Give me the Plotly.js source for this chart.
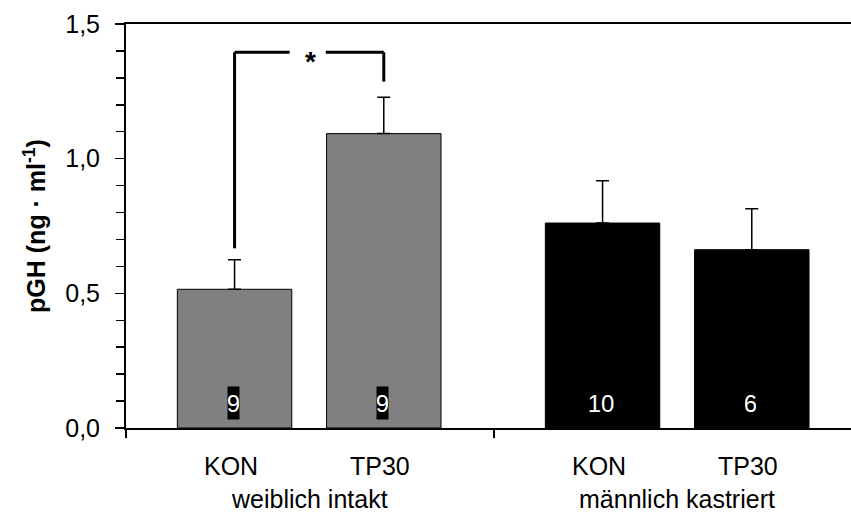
<!DOCTYPE html>
<html>
<head>
<meta charset="utf-8">
<script src="https://cdn.plot.ly/plotly-3.0.1.min.js"></script>
<style>
  html, body { margin: 0; padding: 0; background: #ffffff; overflow: hidden; }
  #chart { width: 851px; height: 514px; }
</style>
</head>
<body>
<div id="chart"></div>
<script>
// ---- data ----
const groups = ['weiblich intakt', 'männlich kastriert'];
const categories = ['KON', 'TP30'];
const meansFemale = [0.515, 1.093];
const meansMale = [0.761, 0.662];
const semFemale = [0.110, 0.135];
const semMale = [0.157, 0.152];
const nFemale = [9, 9];
const nMale = [10, 6];
const yTickVals = [0, 0.5, 1.0, 1.5];

// ---- layout helpers (group g spans [g, g+1] on the x axis) ----
const slot = [0.295, 0.7005];
const barWidth = 0.311;
const xMax = 725 / 368;
const FONT = 'Liberation Sans, Arial, Helvetica, sans-serif';
const groupColors = ['#808080', '#000000'];

function xs(g) { return slot.map(s => g + s); }

const seriesMeans = [meansFemale, meansMale];
const seriesSem = [semFemale, semMale];
const seriesN = [nFemale, nMale];

const traces = groups.map((name, g) => ({
  type: 'bar',
  name: name,
  x: xs(g),
  y: seriesMeans[g],
  width: barWidth,
  marker: { color: groupColors[g], line: { color: '#000000', width: 1 } },
  error_y: {
    type: 'data', symmetric: false,
    array: seriesSem[g], arrayminus: seriesMeans[g].map(() => 0),
    color: '#000000', thickness: 1.5, width: 6.5
  },
  hoverinfo: 'x+y',
  showlegend: false
}));

const annotations = [];
groups.forEach((name, g) => {
  const px = xs(g);
  categories.forEach((c, i) => {
    annotations.push({
      x: px[i] - 0.01, xref: 'x', y: -0.093, yref: 'paper',
      text: c, showarrow: false, xanchor: 'center', yanchor: 'middle',
      font: { family: FONT, size: 25, color: '#000000' }
    });
    annotations.push({
      x: px[i] - 0.004, xref: 'x', y: 0.061, yref: 'paper',
      text: String(seriesN[g][i]), showarrow: false,
      xanchor: 'center', yanchor: 'middle',
      font: { family: FONT, size: 24, color: '#ffffff' },
      bgcolor: '#000000', borderpad: 0,
      width: String(seriesN[g][i]).length * 11 + (String(seriesN[g][i]).length > 1 ? 4 : 0),
      height: 32
    });
  });
  annotations.push({
    x: (px[0] + px[1]) / 2, xref: 'x', y: -0.176, yref: 'paper',
    text: name, showarrow: false, xanchor: 'center', yanchor: 'middle',
    font: { family: FONT, size: 25, color: '#000000' }
  });
});

// significance bracket between the two female bars
const fx = xs(0);
const bTop = 1.395, bLeft = 0.667, bRight = 1.286;
const mid = (fx[0] + fx[1]) / 2 - 0.004;
const gapHalf = 0.049;
const bLine = { color: '#000000', width: 3 };
const shapes = [
  { type: 'line', xref: 'x', yref: 'y', x0: fx[0], x1: fx[0], y0: bLeft, y1: bTop, line: bLine },
  { type: 'line', xref: 'x', yref: 'y', x0: fx[0], x1: mid - gapHalf, y0: bTop, y1: bTop, line: bLine },
  { type: 'line', xref: 'x', yref: 'y', x0: mid + gapHalf, x1: fx[1], y0: bTop, y1: bTop, line: bLine },
  { type: 'line', xref: 'x', yref: 'y', x0: fx[1], x1: fx[1], y0: bTop, y1: bRight, line: bLine }
];
annotations.push({
  x: mid + 0.008, xref: 'x', y: bTop, yref: 'y',
  text: '<b>*</b>', showarrow: false, xanchor: 'center', yanchor: 'top', yshift: 8,
  font: { family: FONT, size: 28, color: '#000000' }
});

const layout = {
  width: 851, height: 514,
  margin: { l: 126, r: 0, t: 24, b: 86, pad: 0 },
  paper_bgcolor: '#ffffff', plot_bgcolor: '#ffffff',
  separators: ', ',
  font: { family: FONT, size: 25, color: '#000000' },
  bargap: 0,
  xaxis: {
    range: [0, xMax], showgrid: false, zeroline: false,
    showline: true, linecolor: '#000000', linewidth: 2, mirror: true,
    tickmode: 'array', tickvals: [0, 1, 2], showticklabels: false,
    ticks: 'outside', ticklen: 8, tickwidth: 1.5, tickcolor: '#000000',
    fixedrange: true
  },
  yaxis: {
    range: [0, 1.5], showgrid: false, zeroline: false,
    showline: true, linecolor: '#000000', linewidth: 2,
    tickmode: 'array', tickvals: yTickVals, tickformat: '.1f',
    ticks: 'outside', ticklen: 9, tickwidth: 1.5, tickcolor: '#000000',
    minor: { dtick: 0.1, ticks: 'outside', ticklen: 8, tickwidth: 1.5, tickcolor: '#000000', showgrid: false },
    tickfont: { family: FONT, size: 25, color: '#000000' },
    ticklabelstandoff: 10,
    title: {
      text: '<b>pGH (ng · ml<sup>-1</sup>)</b>',
      font: { family: FONT, size: 25, color: '#000000' },
      standoff: 12
    },
    automargin: false,
    fixedrange: true
  },
  shapes: shapes,
  annotations: annotations
};

Plotly.newPlot('chart', traces, layout, { displayModeBar: false, staticPlot: true });
</script>
</body>
</html>
